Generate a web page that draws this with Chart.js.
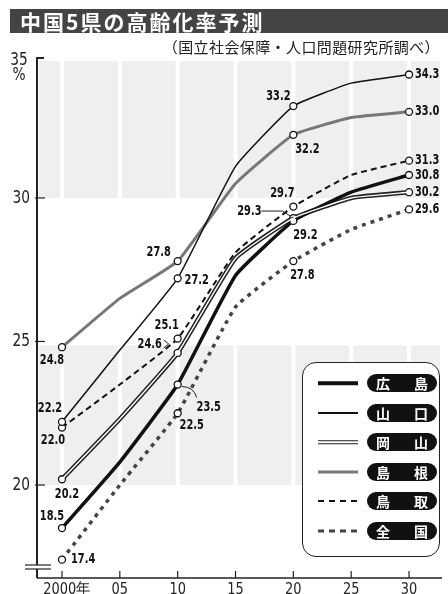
<!DOCTYPE html>
<html>
<head>
<meta charset="utf-8">
<script src="https://cdn.jsdelivr.net/npm/chart.js@4.4.1/dist/chart.umd.min.js"></script>
<style>
html, body { margin: 0; padding: 0; background: #fff; }
body { width: 448px; height: 594px; position: relative; overflow: hidden; font-family: "Noto Sans CJK JP", sans-serif; }
#chart { position: absolute; left: 0; top: 0; }
.title { position: absolute; left: 10px; top: 9px; width: 438px; height: 24px; background: #444; color: #fff; font-weight: bold; font-size: 21px; line-height: 24px; letter-spacing: 2px; padding-left: 10px; box-sizing: border-box; }
.source { position: absolute; right: 8px; top: 37px; font-size: 15px; line-height: 20px; color: #222; letter-spacing: 0.4px; }
.legend { position: absolute; left: 302px; top: 362px; width: 138px; height: 195px; border: 1.5px solid #222; border-radius: 14px; background: #fff; box-sizing: border-box; }
.row { position: absolute; left: 0; width: 100%; height: 18px; }
.sample { position: absolute; left: 15px; width: 40px; top: 50%; transform: translateY(-50%); }
.pill { position: absolute; left: 64px; width: 70px; height: 18px; background: #111; border-radius: 9px; color: #fff; font-weight: bold; font-size: 14px; line-height: 18px; display: flex; justify-content: space-between; padding: 0 9px; box-sizing: border-box; }
</style>
</head>
<body>
<canvas id="chart" width="448" height="594"></canvas>
<div class="title">中国5県の高齢化率予測</div>
<div class="source">（国立社会保障・人口問題研究所調べ）</div>
<div class="legend" id="legend"></div>
<script>
// data
const years = [2000, 2005, 2010, 2015, 2020, 2025, 2030];
const yearLabels = ['2000年', '05', '10', '15', '20', '25', '30'];
const yTicks = [20, 25, 30];

const hiroshima = [18.5, 20.8, 23.5, 27.3, 29.2, 30.2, 30.8];
const yamaguchi = [22.2, 24.7, 27.2, 31.1, 33.2, 34.0, 34.3];
const okayama   = [20.2, 22.3, 24.6, 27.9, 29.3, 30.0, 30.2];
const shimane   = [24.8, 26.5, 27.8, 30.5, 32.2, 32.8, 33.0];
const tottori   = [22.0, 23.5, 25.1, 28.1, 29.7, 30.8, 31.3];
const zenkoku   = [17.4, 20.0, 22.5, 26.2, 27.8, 28.9, 29.6];

const numFont = '"Liberation Sans Narrow", "DejaVu Sans Condensed", sans-serif';

function pts(vals) {
    return years.map((x, i) => ({ x: x, y: vals[i] }));
}
const marker = ctx => ctx.dataIndex % 2 === 0 ? 3.5 : 0;

const datasets = [
    { label: '広島', data: pts(hiroshima), borderColor: '#111', borderWidth: 3.5 },
    { label: '山口', data: pts(yamaguchi), borderColor: '#111', borderWidth: 1.5 },
    { label: '岡山', data: pts(okayama), borderColor: '#222', borderWidth: 4.5 },
    { label: '岡山in', data: pts(okayama), borderColor: '#fff', borderWidth: 1.4, pointRadius: 0 },
    { label: '島根', data: pts(shimane), borderColor: '#777', borderWidth: 3 },
    { label: '鳥取', data: pts(tottori), borderColor: '#111', borderWidth: 2, borderDash: [6, 4] },
    { label: '全国', data: pts(zenkoku), borderColor: '#444', borderWidth: 3.5, borderDash: [4, 5] }
];
datasets.forEach((d, i) => {
    d.tension = 0.12;
    d.fill = false;
    if (d.pointRadius === undefined) d.pointRadius = marker;
    d.pointBackgroundColor = '#fff';
    d.pointBorderColor = '#111';
    d.pointBorderWidth = 1.3;
    d.order = i === 3 ? 0 : 1;
});

// value labels: series, point index, offset of text from point, align
const valueLabels = [
    [hiroshima, 0, -10, -12, 'center'], [hiroshima, 2, 31, 23, 'center'], [hiroshima, 4, 12, 14, 'center'], [hiroshima, 6, 6, 0, 'left'],
    [yamaguchi, 0, -12, -13, 'center'], [yamaguchi, 2, 19, 2, 'center'], [yamaguchi, 4, -15, -10, 'center'], [yamaguchi, 6, 6, 0, 'left'],
    [okayama, 0, 5, 15, 'center'], [okayama, 2, -28, -9, 'center'], [okayama, 4, -44, -7, 'center'], [okayama, 6, 6, 0, 'left'],
    [shimane, 0, -10, 13, 'center'], [shimane, 2, -19, -9, 'center'], [shimane, 4, 14, 15, 'center'], [shimane, 6, 6, 0, 'left'],
    [tottori, 0, -9, 13, 'center'], [tottori, 2, -11, -13, 'center'], [tottori, 4, -11, -13, 'center'], [tottori, 6, 6, 0, 'left'],
    [zenkoku, 0, 9, 0, 'left'], [zenkoku, 2, 14, 12, 'center'], [zenkoku, 4, 9, 14, 'center'], [zenkoku, 6, 6, 0, 'left']
];

function narrowText(ctx, text, x, y, sx) {
    ctx.save();
    ctx.translate(x, y);
    ctx.scale(sx, 1);
    ctx.fillText(text, 0, 0);
    ctx.restore();
}

const bandPlugin = {
    id: 'bands',
    beforeDatasetsDraw(chart) {
        const { ctx, chartArea: a, scales: { x, y } } = chart;
        ctx.save();
        ctx.fillStyle = '#efefef';
        [[30, 35], [20, 25]].forEach(([lo, hi]) => {
            const y1 = y.getPixelForValue(Math.min(hi, y.max)) + 4;
            const y2 = y.getPixelForValue(lo);
            ctx.fillRect(a.left + 2, y1, a.right - a.left - 4, y2 - y1);
        });
        ctx.fillStyle = '#fff';
        years.forEach(v => {
            const px = x.getPixelForValue(v);
            ctx.fillRect(px - 2, a.top, 4, a.bottom - a.top);
        });
        ctx.restore();
    }
};

const axisPlugin = {
    id: 'axes',
    afterDatasetsDraw(chart) {
        const { ctx, chartArea: a, scales: { x, y } } = chart;
        ctx.save();
        ctx.strokeStyle = '#222';
        // y axis
        ctx.lineWidth = 2;
        ctx.beginPath();
        ctx.moveTo(a.left + 7, a.top + 1);
        ctx.lineTo(a.left, a.top + 1);
        ctx.lineTo(a.left, a.bottom);
        ctx.stroke();
        ctx.lineWidth = 1.2;
        yTicks.forEach(v => {
            const py = y.getPixelForValue(v);
            ctx.beginPath();
            ctx.moveTo(a.left - 2, py);
            ctx.lineTo(a.left + 8, py);
            ctx.stroke();
        });
        // axis break
        ctx.fillStyle = '#fff';
        ctx.fillRect(a.left - 12, a.bottom - 13, 26, 4);
        ctx.lineWidth = 1.2;
        [a.bottom - 13, a.bottom - 9].forEach(py => {
            ctx.beginPath();
            ctx.moveTo(a.left - 12, py);
            ctx.lineTo(a.left + 14, py);
            ctx.stroke();
        });
        // x axis
        ctx.lineWidth = 1.6;
        ctx.beginPath();
        ctx.moveTo(a.left, a.bottom);
        ctx.lineTo(a.right, a.bottom);
        ctx.stroke();
        ctx.lineWidth = 1.2;
        years.forEach(v => {
            const px = x.getPixelForValue(v);
            ctx.beginPath();
            ctx.moveTo(px, a.bottom - 7);
            ctx.lineTo(px, a.bottom);
            ctx.stroke();
        });
        // tick labels
        ctx.fillStyle = '#222';
        ctx.font = '18px ' + numFont;
        ctx.textAlign = 'right';
        ctx.textBaseline = 'middle';
        yTicks.forEach(v => narrowText(ctx, String(v), 30, y.getPixelForValue(v), 0.85));
        ctx.textAlign = 'center';
        narrowText(ctx, '35', 19, a.top + 3, 0.85);
        narrowText(ctx, '%', 19, a.top + 18, 0.85);
        ctx.font = '16px ' + numFont;
        ctx.textBaseline = 'alphabetic';
        years.forEach((v, i) => {
            const px = x.getPixelForValue(v) + (i === 0 ? 5 : 0);
            narrowText(ctx, yearLabels[i], px, 594, 0.9);
        });
        ctx.restore();
    }
};

const labelPlugin = {
    id: 'valueLabels',
    afterDatasetsDraw(chart) {
        const ctx = chart.ctx;
        const series = [hiroshima, yamaguchi, okayama, null, shimane, tottori, zenkoku];
        ctx.save();
        ctx.fillStyle = '#111';
        ctx.font = 'bold 14px ' + numFont;
        ctx.textBaseline = 'middle';
        valueLabels.forEach(([arr, idx, dx, dy, align]) => {
            const pt = chart.getDatasetMeta(series.indexOf(arr)).data[idx];
            ctx.textAlign = align;
            narrowText(ctx, arr[idx].toFixed(1), pt.x + dx, pt.y + dy, 0.78);
        });
        // leader marks
        ctx.strokeStyle = '#222';
        ctx.lineWidth = 1;
        const p29 = chart.getDatasetMeta(2).data[4];
        ctx.beginPath();
        ctx.moveTo(p29.x - 32, p29.y - 7);
        ctx.lineTo(p29.x - 11, p29.y - 7);
        ctx.lineTo(p29.x - 3, p29.y - 2);
        ctx.stroke();
        const p24 = chart.getDatasetMeta(2).data[2];
        ctx.beginPath();
        ctx.moveTo(p24.x - 14, p24.y - 13);
        ctx.lineTo(p24.x - 9, p24.y - 9);
        ctx.lineTo(p24.x - 14, p24.y - 5);
        ctx.stroke();
        const p23 = chart.getDatasetMeta(0).data[2];
        ctx.beginPath();
        ctx.moveTo(p23.x + 4, p23.y + 2);
        ctx.quadraticCurveTo(p23.x + 16, p23.y + 2, p23.x + 19, p23.y + 13);
        ctx.stroke();
        ctx.restore();
    }
};

new Chart(document.getElementById('chart'), {
    type: 'line',
    data: { datasets: datasets },
    options: {
        responsive: false,
        animation: false,
        layout: { padding: { left: 37, top: 57, right: 6, bottom: 16 } },
        plugins: { legend: { display: false }, tooltip: { enabled: false } },
        scales: {
            x: { type: 'linear', min: 1997.84, max: 2032.85, display: false },
            y: { type: 'linear', min: 16.76, max: 34.91, display: false }
        }
    },
    plugins: [bandPlugin, axisPlugin, labelPlugin]
});

// legend built from the series names
const legendItems = [
    ['広', '島', 'height:3.5px;background:#111'],
    ['山', '口', 'height:2px;background:#111'],
    ['岡', '山', 'height:1.5px;border-top:1.5px solid #222;border-bottom:1.5px solid #222'],
    ['島', '根', 'height:3px;background:#777'],
    ['鳥', '取', 'height:2px;background:repeating-linear-gradient(90deg,#111 0 6px,transparent 6px 11px)'],
    ['全', '国', 'height:3px;background:repeating-linear-gradient(90deg,#444 0 6px,transparent 6px 11px)']
];
const legend = document.getElementById('legend');
legendItems.forEach((it, i) => {
    const row = document.createElement('div');
    row.className = 'row';
    row.style.top = (11 + i * 29.5) + 'px';
    row.innerHTML = '<div class="sample" style="' + it[2] + '"></div>' +
        '<div class="pill"><span>' + it[0] + '</span><span>' + it[1] + '</span></div>';
    legend.appendChild(row);
});
</script>
</body>
</html>
